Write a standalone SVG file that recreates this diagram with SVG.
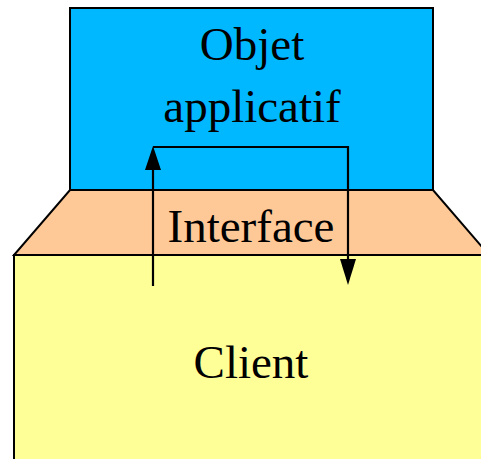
<svg xmlns="http://www.w3.org/2000/svg" width="481" height="459" viewBox="0 0 481 459">
  <style>
    .box { stroke: #000; stroke-width: 2; stroke-linejoin: miter; }
    .label { font-family: "Liberation Serif", "Times New Roman", serif; font-size: 47px; fill: #000; text-anchor: middle; }
    .wire { fill: none; stroke: #000; stroke-width: 2.2; }
    .head { fill: #000; }
  </style>

  <!-- bottom layer: client -->
  <g id="client">
    <rect class="box" x="14" y="255" width="490" height="220" fill="#ffff97"/>
    <text class="label" x="251" y="378">Client</text>
  </g>

  <!-- middle layer: interface -->
  <g id="interface">
    <path class="box" d="M70 190 L433 190 L489 255 L14 255 Z" fill="#ffc997"/>
    <text class="label" x="251" y="242">Interface</text>
  </g>

  <!-- top layer: application object -->
  <g id="objet">
    <rect class="box" x="70" y="8" width="363" height="182" fill="#00b8ff"/>
    <text class="label" x="252" y="60">Objet</text>
    <text class="label" x="252" y="122">applicatif</text>
  </g>

  <!-- call path through the interface -->
  <g id="connectors">
    <path class="wire" d="M153 286 L153 170"/>
    <path class="head" d="M153 146 L161 170 L145 170 Z"/>
    <path class="wire" d="M153 147 L348 147 L348 260"/>
    <path class="head" d="M348 285 L356 259 L340 259 Z"/>
  </g>
</svg>
